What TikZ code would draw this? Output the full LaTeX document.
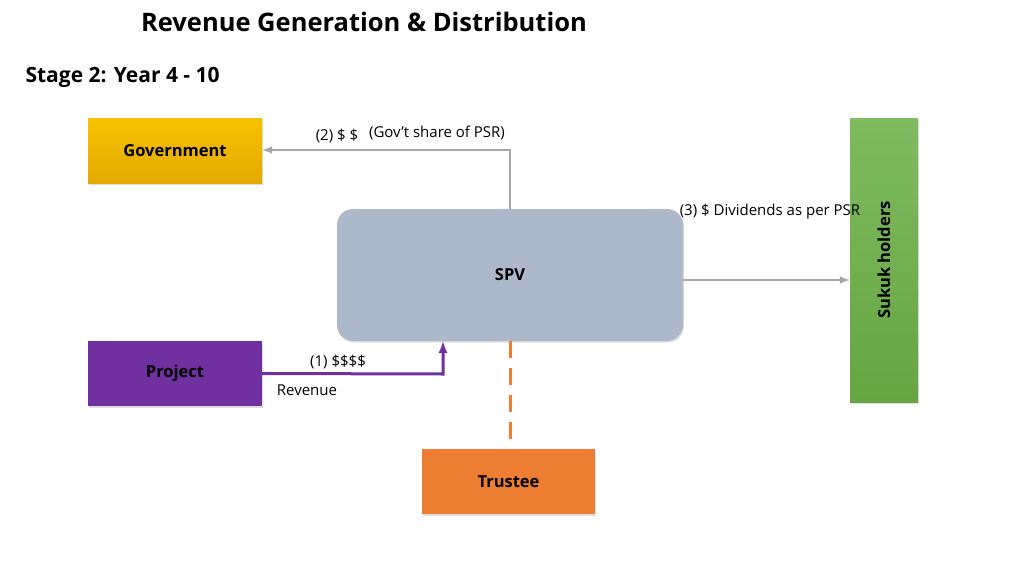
\documentclass[tikz,border=0pt]{standalone}
\usepackage{fontspec}
\setmainfont{Open Sans}
\usetikzlibrary{shadows}
\definecolor{govc}{HTML}{F5B800}
\definecolor{spvc}{HTML}{ADB9CA}
\definecolor{projc}{HTML}{7030A0}
\definecolor{trustc}{HTML}{ED7D31}
\definecolor{sukc}{HTML}{6AAE45}
\definecolor{flowc}{HTML}{A6A6A6}
\begin{document}
\begin{tikzpicture}[x=1pt,y=-1pt,
    box/.style={draw=none,minimum width=174pt,minimum height=65pt,
      font=\fontsize{16.5}{19}\selectfont\bfseries,drop shadow={opacity=0.25,shadow xshift=1pt,shadow yshift=-1.5pt}},
    lbl/.style={font=\fontsize{15}{17}\selectfont,inner sep=1pt},
    flow/.style={-latex,line width=2.4pt}]
    \useasboundingbox (0,0) rectangle (1024,575);

    % the texts
    \node[font=\fontsize{25.5}{29}\selectfont\bfseries] (title) at (364,22) {Revenue Generation \& Distribution};
    \node[anchor=west,font=\fontsize{21}{24}\selectfont\bfseries] (stage) at (22,77) {Stage 2: Year 4 - 10};

    \node[box,top color=govc!85!yellow,bottom color=govc!92!black] (gov) at (175,151) {Government};
    \node[box,fill=spvc,rounded corners=16pt,minimum width=346pt,minimum height=132pt] (spv) at (510,275) {SPV};
    \node[box,fill=projc,text=black] (proj) at (175,373.5) {Project};
    \node[box,fill=trustc,minimum width=173pt] (trust) at (508.5,481.5) {Trustee};
    \node[box,top color=sukc!85!white,bottom color=sukc!95!black,minimum width=68pt,minimum height=284pt] (suk) at (884,260) {};
    \node[rotate=90,font=\fontsize{16.5}{19}\selectfont\bfseries] (suktext) at (suk) {Sukuk holders};

    \coordinate (up) at (510,150);
    \coordinate (turn) at (443,374);
    \draw[flow,flowc] (spv.north -| up) -- (up) -- (gov.east |- up);
    \draw[flow,flowc] (spv.east |- 0,280) -- (suk.west |- 0,280);
    \draw[flow,projc,line width=3pt] (proj.east) -- (turn) -- (turn |- spv.south);
    \draw[trustc,line width=3pt,dash pattern=on 17pt off 10pt] (spv.south -| up) -- (trust.north -| up);

    \node[lbl] (l2) at (337,136) {(2) \$ \$};
    \node[lbl] (l2b) at (437,133) {(Gov’t share of PSR)};
    \node[lbl] (l3) at (770,212) {(3) \$ Dividends as per PSR};
    \node[lbl] (l1) at (338,362) {(1) \$\$\$\$};
    \node[lbl] (l1b) at (307,390) {Revenue};
\end{tikzpicture}
\end{document}
